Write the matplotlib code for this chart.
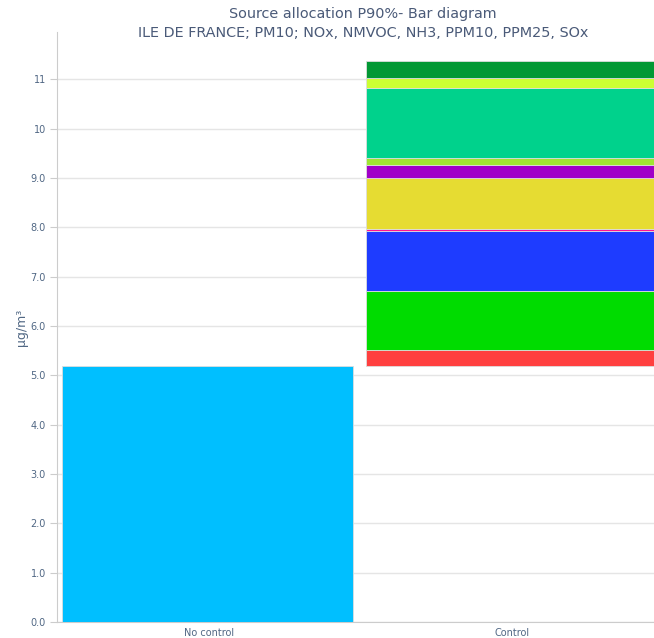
import matplotlib.pyplot as plt
import numpy as np

# data (ug/m3)
base_label = "No control"
base_value = 5.2
control_label = "Control"
control_parts = [0.32, 1.20, 1.21, 0.04, 1.03, 0.26, 0.14, 1.43, 0.19, 0.35]
part_colors = ['#ff3f3f', '#00dc00', '#1e3cff', '#ff1493', '#e6dc32',
               '#a000c8', '#a0e632', '#00d28c', '#ccff33', '#029834']
ytick_vals = [0, 1, 2, 3, 4, 5, 6, 7, 8, 9, 10, 11]
ytick_labels = ['0.0', '1.0', '2.0', '3.0', '4.0', '5.0', '6.0', '7.0',
                '8.0', '9.0', '10', '11']

txt = '#506784'
fig = plt.figure(figsize=(6.54, 6.38), dpi=100)
ax = fig.add_axes([57 / 654, 1 - 622 / 638, (663.5 - 57) / 654, (622 - 32) / 638])

w = 0.96
ax.bar(-0.005, base_value, width=w, color='#00bfff', edgecolor='#dddddd', linewidth=0.6, zorder=3)

bottoms = base_value + np.concatenate([[0], np.cumsum(control_parts)[:-1]])
ax.bar([1] * len(control_parts), control_parts, bottom=bottoms, width=w,
       color=part_colors, edgecolor='#dddddd', linewidth=0.6, zorder=3)

top = base_value + sum(control_parts)
ax.set_xlim(-0.5, 1.5)
ax.set_ylim(0, top * 1.052)
ax.set_xticks([0, 1])
ax.set_xticklabels([base_label, control_label], fontsize=7, color=txt)
ax.tick_params(axis='x', length=0, pad=4)
ax.set_yticks(ytick_vals)
ax.set_yticklabels(ytick_labels, fontsize=7, color=txt)
ax.tick_params(axis='y', length=5, color='#cccccc', pad=3)
ax.yaxis.grid(True, color='#e5e5e5', linewidth=1, zorder=0)
for s in ['top', 'right']:
    ax.spines[s].set_visible(False)
for s in ['left', 'bottom']:
    ax.spines[s].set_color('#cccccc')
ax.set_ylabel('µg/m³', fontsize=9, color=txt, labelpad=2)

fig.text(0.555, 1 - 14 / 638, 'Source allocation P90%- Bar diagram',
         ha='center', va='center', fontsize=10.4, color='#4a5a78')
fig.text(0.555, 1 - 33 / 638, 'ILE DE FRANCE; PM10; NOx, NMVOC, NH3, PPM10, PPM25, SOx',
         ha='center', va='center', fontsize=10.4, color='#4a5a78')

fig.savefig('out.png', dpi=100)
